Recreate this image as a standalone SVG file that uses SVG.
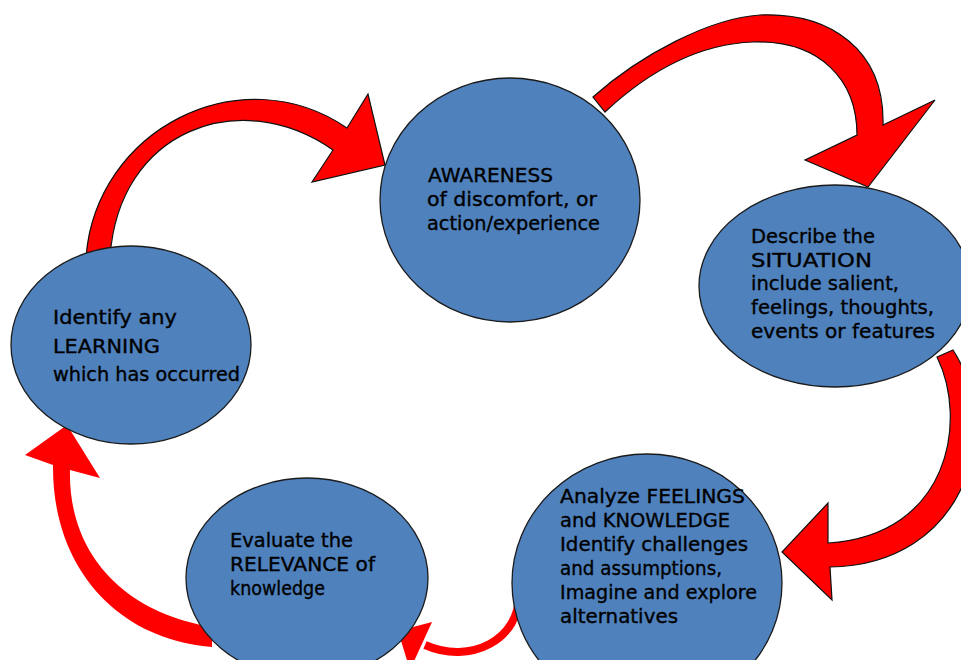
<svg xmlns="http://www.w3.org/2000/svg" width="961" height="660" viewBox="0 0 961 660">
  <style>
    .node { fill: #4F81BD; stroke: #1b1b1b; stroke-width: 1.3; }
    .arrow { fill: #FF0000; stroke: #111; stroke-width: 1.2; stroke-linejoin: miter; }
    .arrow-plain { fill: #FF0000; stroke: none; }
    .label { font-family: "Comic Sans MS", "DejaVu Sans", sans-serif; font-size: 19.5px; fill: #000; stroke: #000; stroke-width: 0.35; }
  </style>
  <rect width="961" height="660" fill="#ffffff"/>

  <!-- curved block arrows between the stages -->
  <g id="connectors">
    <!-- learning -> awareness -->
    <path class="arrow" d="M86,258 C 95,130 240,55 347,128 L368,94 L385,165 L312,182 L333,150 C 240,85 118,130 110,258 Z"/>
    <!-- awareness -> situation -->
    <path class="arrow" d="M593,97 C 640,55 710,18 760,15 C 830,12 885,50 883,125 L935,100 L868,187 L805,160 L857,135 C 857,80 820,40 753,42 C 700,44 650,70 605,112 Z"/>
    <!-- situation -> feelings -->
    <path class="arrow" d="M937,357 C 968,420 950,535 828,543 L828,503 L782,552 L832,600 L830,567 C 965,565 1005,430 953,350 Z"/>
    <!-- feelings -> relevance -->
    <path d="M519,592 C 521,640 470,665 425,645" fill="none" stroke="#FF0000" stroke-width="8"/>
    <polygon class="arrow-plain" points="398,631 432,622 410,670"/>
    <!-- relevance -> learning -->
    <path class="arrow-plain" d="M212,647 C 120,640 52,570 53,465 L25,455 L67,425 L100,478 L70,470 C 68,550 120,612 212,627 Z"/>
  </g>

  <g id="awareness">
    <ellipse class="node" cx="510" cy="200" rx="130" ry="122"/>
    <text class="label" x="428" y="182" textLength="125" lengthAdjust="spacingAndGlyphs">AWARENESS</text>
    <text class="label" x="427" y="206" textLength="170" lengthAdjust="spacingAndGlyphs">of discomfort, or</text>
    <text class="label" x="427" y="230" textLength="173" lengthAdjust="spacingAndGlyphs">action/experience</text>
  </g>

  <g id="situation">
    <ellipse class="node" cx="835" cy="286" rx="136" ry="101"/>
    <text class="label" x="751" y="243" textLength="124" lengthAdjust="spacingAndGlyphs">Describe the</text>
    <text class="label" x="751" y="267" textLength="121" lengthAdjust="spacingAndGlyphs">SITUATION</text>
    <text class="label" x="751" y="290" textLength="148" lengthAdjust="spacingAndGlyphs">include salient,</text>
    <text class="label" x="751" y="314" textLength="183" lengthAdjust="spacingAndGlyphs">feelings, thoughts,</text>
    <text class="label" x="751" y="338" textLength="184" lengthAdjust="spacingAndGlyphs">events or features</text>
  </g>

  <g id="feelings">
    <ellipse class="node" cx="647" cy="583" rx="135" ry="129"/>
    <text class="label" x="560" y="503" textLength="185" lengthAdjust="spacingAndGlyphs">Analyze FEELINGS</text>
    <text class="label" x="560" y="527" textLength="170" lengthAdjust="spacingAndGlyphs">and KNOWLEDGE</text>
    <text class="label" x="560" y="551" textLength="188" lengthAdjust="spacingAndGlyphs">Identify challenges</text>
    <text class="label" x="560" y="575" textLength="162" lengthAdjust="spacingAndGlyphs">and assumptions,</text>
    <text class="label" x="560" y="599" textLength="197" lengthAdjust="spacingAndGlyphs">Imagine and explore</text>
    <text class="label" x="560" y="623" textLength="118" lengthAdjust="spacingAndGlyphs">alternatives</text>
  </g>

  <g id="relevance">
    <ellipse class="node" cx="307" cy="578" rx="121" ry="100"/>
    <text class="label" x="230" y="547" textLength="123" lengthAdjust="spacingAndGlyphs">Evaluate the</text>
    <text class="label" x="230" y="571" textLength="145" lengthAdjust="spacingAndGlyphs">RELEVANCE of</text>
    <text class="label" x="230" y="595" textLength="95" lengthAdjust="spacingAndGlyphs">knowledge</text>
  </g>

  <g id="learning">
    <ellipse class="node" cx="131" cy="345" rx="120" ry="99"/>
    <text class="label" x="53" y="324" textLength="124" lengthAdjust="spacingAndGlyphs">Identify any</text>
    <text class="label" x="53" y="353" textLength="107" lengthAdjust="spacingAndGlyphs">LEARNING</text>
    <text class="label" x="53" y="381" textLength="187" lengthAdjust="spacingAndGlyphs">which has occurred</text>
  </g>
</svg>
